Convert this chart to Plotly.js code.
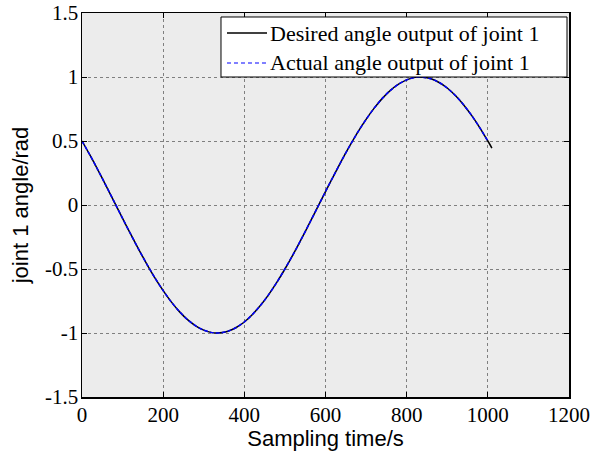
<!DOCTYPE html>
<html>
<head>
<meta charset="utf-8">
<script src="https://cdn.plot.ly/plotly-3.0.1.min.js"></script>
<style>html,body{margin:0;padding:0;background:#fff;}#chart{width:607px;height:451px;}</style>
</head>
<body>
<div id="chart"></div>
<script>
// Sampling time (s) and joint angle (rad)
const desiredT = [0,20,40,60,80,100,120,140,160,180,200,220,240,260,280,300,320,340,360,380,400,420,440,460,480,500,520,540,560,580,600,620,640,660,680,700,720,740,760,780,800,820,840,860,880,900,920,940,960,980,1000,1010];
const desiredY = [0.500,0.388,0.269,0.146,0.021,-0.105,-0.228,-0.349,-0.463,-0.571,-0.669,-0.757,-0.833,-0.896,-0.944,-0.978,-0.997,-0.999,-0.986,-0.957,-0.914,-0.855,-0.784,-0.700,-0.605,-0.500,-0.388,-0.269,-0.146,-0.021,0.105,0.228,0.349,0.463,0.571,0.669,0.757,0.833,0.896,0.944,0.978,0.997,0.999,0.986,0.957,0.914,0.855,0.784,0.700,0.605,0.500,0.445];
const actualT = [0,20,40,60,80,100,120,140,160,180,200,220,240,260,280,300,320,340,360,380,400,420,440,460,480,500,520,540,560,580,600,620,640,660,680,700,720,740,760,780,800,820,840,860,880,900,920,940,960,980,1000];
const actualY = [0.500,0.388,0.269,0.146,0.021,-0.105,-0.228,-0.349,-0.463,-0.571,-0.669,-0.757,-0.833,-0.896,-0.944,-0.978,-0.997,-0.999,-0.986,-0.957,-0.914,-0.855,-0.784,-0.700,-0.605,-0.500,-0.388,-0.269,-0.146,-0.021,0.105,0.228,0.349,0.463,0.571,0.669,0.757,0.833,0.896,0.944,0.978,0.997,0.999,0.986,0.957,0.914,0.855,0.784,0.700,0.605,0.500];
const xTickVals = [0,200,400,600,800,1000,1200];
const xTickText = ['0','200','400','600','800','1000','1200'];
const yTickVals = [-1.5,-1,-0.5,0,0.5,1,1.5];
const yTickText = ['-1.5','-1','-0.5','0','0.5','1','1.5'];
const seriesNames = ['Desired angle output of joint 1','Actual angle output of joint 1'];

const traces = [
  {x: desiredT, y: desiredY, name: seriesNames[0], type: 'scatter', mode: 'lines',
   line: {color: '#000000', width: 1.5, shape: 'spline', smoothing: 0.6}},
  {x: actualT, y: actualY, name: seriesNames[1], type: 'scatter', mode: 'lines',
   line: {color: '#0000ff', width: 1.5, dash: '4px,2px', shape: 'spline', smoothing: 0.6}}
];

const serif = "Liberation Serif";
const sans = "Liberation Sans";

// legend drawn as a boxed key in paper coordinates
const legendShapes = [
  {type: 'rect', xref: 'paper', yref: 'paper', x0: 0.2854, x1: 0.9959, y0: 0.8333, y1: 0.9896,
   fillcolor: '#ffffff', line: {color: '#000', width: 1}, layer: 'above'},
  {type: 'line', xref: 'paper', yref: 'paper', x0: 0.2977, x1: 0.3799, y0: 0.9479, y1: 0.9479,
   line: {color: traces[0].line.color, width: 1.5}, layer: 'above'},
  {type: 'line', xref: 'paper', yref: 'paper', x0: 0.2977, x1: 0.3799, y0: 0.8698, y1: 0.8698,
   line: {color: traces[1].line.color, width: 1.2, dash: '4px,3px'}, layer: 'above'}
];
const legendTexts = [
  {xref: 'paper', yref: 'paper', x: 0.3819, y: 0.9479, xanchor: 'left', yanchor: 'middle',
   text: seriesNames[0], showarrow: false, font: {family: serif, size: 22, color: '#000'}},
  {xref: 'paper', yref: 'paper', x: 0.3819, y: 0.8698, xanchor: 'left', yanchor: 'middle',
   text: seriesNames[1], showarrow: false, font: {family: serif, size: 22, color: '#000'}}
];

const axisCommon = {
  showline: true, linecolor: '#000', linewidth: 1.5, mirror: 'ticks',
  ticks: 'inside', ticklen: 5, tickcolor: '#000', tickwidth: 1,
  showgrid: true, gridcolor: '#7f7f7f', gridwidth: 1, griddash: 'dot',
  zeroline: false,
  tickfont: {family: serif, size: 21, color: '#000'}
};

const layout = {
  width: 607, height: 451,
  font: {family: serif, size: 21, color: '#000'},
  margin: {l: 82, r: 38, t: 13, b: 54, pad: 0},
  paper_bgcolor: '#ffffff',
  plot_bgcolor: '#ececec',
  showlegend: false,
  shapes: legendShapes,
  annotations: legendTexts,
  xaxis: Object.assign({}, axisCommon, {
    range: [0, 1200], tickvals: xTickVals, ticktext: xTickText,
    ticklabelstandoff: -2,
    title: {text: 'Sampling time/s', standoff: 0,
            font: {family: sans, size: 22, color: '#000'}}
  }),
  yaxis: Object.assign({}, axisCommon, {
    range: [-1.5, 1.5], tickvals: yTickVals, ticktext: yTickText,
    ticklabelstandoff: -2,
    title: {text: 'joint 1 angle/rad', standoff: 10,
            font: {family: sans, size: 22, color: '#000'}}
  })
};

Plotly.newPlot('chart', traces, layout, {staticPlot: true, displayModeBar: false});
</script>
</body>
</html>
